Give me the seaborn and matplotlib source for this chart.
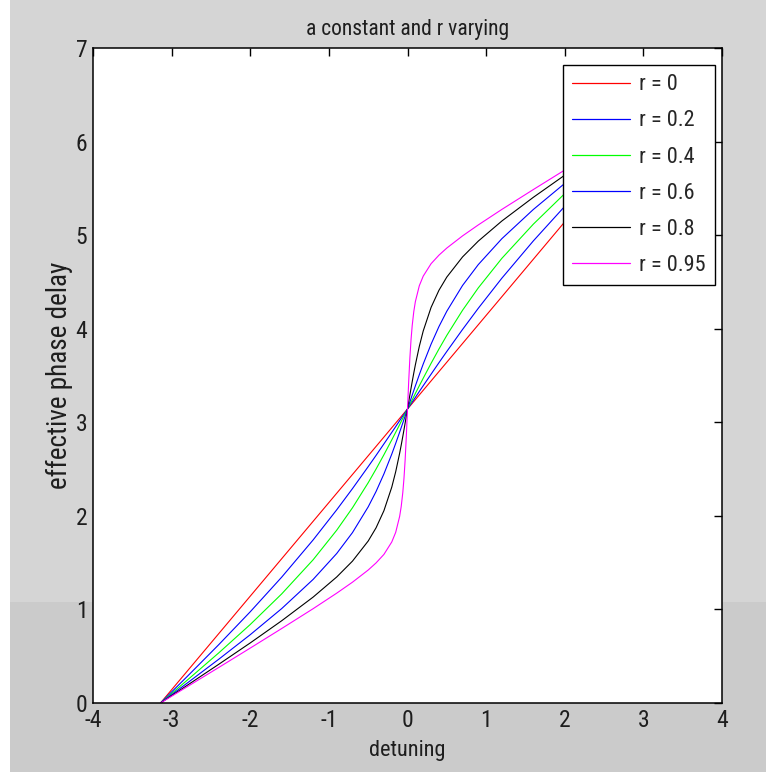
import numpy as np
import pandas as pd
import matplotlib
matplotlib.use("Agg")
import matplotlib.pyplot as plt
import seaborn as sns
from matplotlib.patches import Rectangle

# ---- data ----
detuning = [-3.1416, -2.8, -2.4, -2.0, -1.6, -1.2, -0.9, -0.7, -0.5, -0.4, -0.3,
            -0.2, -0.15, -0.1, -0.08, -0.06, -0.045, -0.03, -0.015, 0.0,
            0.015, 0.03, 0.045, 0.06, 0.08, 0.1, 0.15, 0.2, 0.3, 0.4, 0.5,
            0.7, 0.9, 1.2, 1.6, 2.0, 2.4, 2.8, 3.1416]

phase_r0 = [0.000, 0.342, 0.742, 1.142, 1.542, 1.942, 2.242, 2.442, 2.642, 2.742, 2.842,
            2.942, 2.992, 3.042, 3.062, 3.082, 3.097, 3.112, 3.127, 3.142,
            3.157, 3.172, 3.187, 3.202, 3.222, 3.242, 3.292, 3.342, 3.442, 3.542, 3.642,
            3.842, 4.042, 4.342, 4.742, 5.142, 5.542, 5.942, 6.283]
phase_r02 = [0.000, 0.285, 0.624, 0.975, 1.345, 1.743, 2.065, 2.291, 2.526, 2.646, 2.769,
             2.892, 2.954, 3.017, 3.042, 3.067, 3.085, 3.104, 3.123, 3.142,
             3.160, 3.179, 3.198, 3.216, 3.241, 3.266, 3.329, 3.391, 3.514, 3.637, 3.757,
             3.992, 4.218, 4.540, 4.938, 5.308, 5.659, 5.998, 6.283]
phase_r04 = [0.000, 0.245, 0.536, 0.839, 1.166, 1.531, 1.847, 2.086, 2.354, 2.500, 2.653,
             2.812, 2.893, 2.975, 3.009, 3.042, 3.067, 3.092, 3.117, 3.142,
             3.166, 3.191, 3.216, 3.241, 3.274, 3.308, 3.390, 3.471, 3.630, 3.783, 3.929,
             4.197, 4.436, 4.752, 5.117, 5.444, 5.747, 6.038, 6.283]
phase_r06 = [0.000, 0.214, 0.468, 0.730, 1.009, 1.321, 1.598, 1.821, 2.096, 2.260, 2.448,
             2.660, 2.775, 2.894, 2.943, 2.992, 3.029, 3.067, 3.104, 3.142,
             3.179, 3.216, 3.254, 3.291, 3.340, 3.389, 3.508, 3.623, 3.835, 4.023, 4.187,
             4.462, 4.685, 4.962, 5.274, 5.553, 5.815, 6.069, 6.283]
phase_r08 = [0.000, 0.190, 0.414, 0.642, 0.879, 1.132, 1.347, 1.516, 1.731, 1.872, 2.055,
             2.307, 2.472, 2.669, 2.756, 2.848, 2.919, 2.992, 3.067, 3.142,
             3.216, 3.291, 3.364, 3.435, 3.527, 3.614, 3.811, 3.976, 4.228, 4.411, 4.552,
             4.767, 4.936, 5.151, 5.404, 5.641, 5.869, 6.093, 6.283]
phase_r095 = [0.000, 0.175, 0.380, 0.587, 0.796, 1.008, 1.174, 1.291, 1.421, 1.497, 1.588,
              1.721, 1.824, 1.994, 2.100, 2.248, 2.399, 2.598, 2.850, 3.142,
              3.433, 3.685, 3.884, 4.035, 4.183, 4.289, 4.459, 4.562, 4.695, 4.786, 4.862,
              4.992, 5.109, 5.275, 5.487, 5.696, 5.903, 6.108, 6.283]

labels = ["r = 0", "r = 0.2", "r = 0.4", "r = 0.6", "r = 0.8", "r = 0.95"]
series = [phase_r0, phase_r02, phase_r04, phase_r06, phase_r08, phase_r095]
colors = ["#ff0000", "#0000ff", "#00ff00", "#0000ff", "#000000", "#ff00ff"]

xticks = [-4, -3, -2, -1, 0, 1, 2, 3, 4]
yticks = [0, 1, 2, 3, 4, 5, 6, 7]

rows = []
for lab, ys in zip(labels, series):
    for xv, yv in zip(detuning, ys):
        rows.append({"detuning": xv, "phase": yv, "label": lab})
df = pd.DataFrame(rows)

# ---- style ----
sns.set_theme(style="white")
plt.rcParams["font.family"] = ["Roboto Condensed", "DejaVu Sans"]
plt.rcParams["xtick.direction"] = "in"
plt.rcParams["ytick.direction"] = "in"

TXT = "#1e1e1e"
W, H = 766, 772
fig = plt.figure(figsize=(W / 100, H / 100), dpi=100)
fig.patch.set_facecolor("#d5d5d5")
# background bands of the screenshot
fig.add_artist(Rectangle((0, 0), 1, (H - 602) / H, transform=fig.transFigure,
                         facecolor="#cbcbcb", edgecolor="none", zorder=-10))
fig.add_artist(Rectangle((0, 0), 10 / W, 1, transform=fig.transFigure,
                         facecolor="#ffffff", edgecolor="none", zorder=-9))

ax = fig.add_axes([93 / W, 1 - 703 / H, (722 - 93) / W, (703 - 48) / H])
ax.set_facecolor("white")

sns.lineplot(data=df, x="detuning", y="phase", hue="label", hue_order=labels,
             palette=dict(zip(labels, colors)), sort=False, estimator=None,
             linewidth=0.8, ax=ax)

ax.set_xlim(-4, 4)
ax.set_ylim(0, 7)
ax.set_xticks(xticks)
ax.set_yticks(yticks)
ax.set_xticklabels([str(t) for t in xticks])
ax.set_yticklabels([str(t) for t in yticks])
ax.tick_params(axis="both", which="both", direction="in", length=6, width=1,
               color="black", labelsize=17, labelcolor=TXT,
               top=True, right=True, pad=4)
for sp in ax.spines.values():
    sp.set_visible(True)
    sp.set_color("black")
    sp.set_linewidth(1.1)

ax.set_xlabel("detuning", fontsize=16, color=TXT, labelpad=6)
ax.set_ylabel("effective phase delay", fontsize=19.5, color=TXT, labelpad=2)
ax.set_title("a constant and r varying", fontsize=15.5, color=TXT, pad=9)

handles, labs = ax.get_legend_handles_labels()
leg = ax.legend(handles, labs, loc="upper right", bbox_to_anchor=(0.989, 0.974),
                fontsize=16, frameon=True, fancybox=False, framealpha=1,
                edgecolor="black", facecolor="white", handlelength=2.6,
                handletextpad=0.4, labelspacing=0.68, borderpad=0.42,
                borderaxespad=0.0)
leg.get_frame().set_linewidth(1.0)
for line in leg.get_lines():
    line.set_linewidth(0.9)

fig.savefig("out.png", dpi=100, facecolor=fig.get_facecolor())
